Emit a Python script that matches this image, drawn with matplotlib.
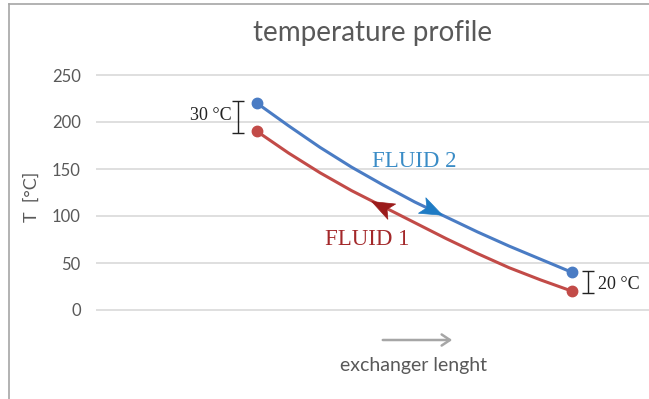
import numpy as np
import matplotlib
matplotlib.use('Agg')
import matplotlib.pyplot as plt
from matplotlib.lines import Line2D
from matplotlib.markers import MarkerStyle
from matplotlib.path import Path
from matplotlib.transforms import Affine2D

# exchanger length (normalised) and temperatures
length = [0, 0.1, 0.2, 0.3, 0.4, 0.5, 0.6, 0.7, 0.8, 0.9, 1.0]
fluid2 = [220, 196, 173, 152, 133, 115, 99, 83, 68, 54, 40]
fluid1 = [190, 167, 146, 127, 110, 93, 76, 60, 45, 32, 20]
yticks = [0, 50, 100, 150, 200, 250]

blue = '#4A7CC4'
red = '#C24B48'
grey = '#595959'

W, H = 649, 399
fig = plt.figure(figsize=(W/100, H/100), dpi=100)
plt.rcParams['font.family'] = ['Lato', 'DejaVu Sans']

# axes placed so that 0..250 maps like in the reference
ax = fig.add_axes([96/W, (H-314.7)/H, (W-96)/W, (314.7-70.3)/H])
ax.set_xlim(-0.511, 1.244)
ax.set_ylim(-5, 255)
ax.set_yticks(yticks)
ax.set_xticks([])
ax.tick_params(axis='y', length=0, pad=11, labelsize=12, labelcolor=grey)
for s in ax.spines.values():
    s.set_visible(False)
ax.grid(axis='y', color='#D9D9D9', lw=1.2)
ax.set_axisbelow(True)

ax.plot(length, fluid2, color=blue, lw=2.2, solid_capstyle='round', solid_joinstyle='round')
ax.plot(length, fluid1, color=red, lw=2.2, solid_capstyle='round', solid_joinstyle='round')
ax.plot([length[0], length[-1]], [fluid2[0], fluid2[-1]], 'o', color=blue, ms=7.5)
ax.plot([length[0], length[-1]], [fluid1[0], fluid1[-1]], 'o', color=red, ms=7.5)

# flow direction arrowheads (stealth shape, rotated along the curve)
stealth = Path([(1, 0), (-0.7, 0.65), (-0.3, 0), (-0.7, -0.65), (1, 0)],
               [Path.MOVETO, Path.LINETO, Path.LINETO, Path.LINETO, Path.CLOSEPOLY])

def arrowhead(x, y, x_from, y_from, color):
    p0 = ax.transData.transform((x_from, y_from))
    p1 = ax.transData.transform((x, y))
    ang = np.degrees(np.arctan2(p1[1]-p0[1], p1[0]-p0[0]))
    m = MarkerStyle(stealth, transform=Affine2D().rotate_deg(ang))
    ax.plot([x], [y], marker=m, color=color, ms=19, mec=color, mew=0.5, zorder=4)

arrowhead(0.55, 107, 0.5, 115, '#1E7BC4')
arrowhead(0.40, 110, 0.45, 101.5, '#9B1B1B')

ax.text(0.50, 158, 'FLUID 2', color='#3A8CC6', fontsize=16.5,
        family='Liberation Serif', ha='center', va='center')
ax.text(0.35, 75, 'FLUID 1', color='#A3282A', fontsize=16.5,
        family='Liberation Serif', ha='center', va='center')

# temperature difference brackets
ax.errorbar([-0.06], [(fluid2[0]+fluid1[0])/2], yerr=[(fluid2[0]-fluid1[0])/2 + 2],
            fmt='none', ecolor='#222222', elinewidth=1, capsize=4)
ax.text(-0.08, 207, '30 °C', fontsize=13, family='Liberation Serif',
        ha='right', va='center', color='#222222')
ax.errorbar([1.05], [(fluid2[-1]+fluid1[-1])/2], yerr=[(fluid2[-1]-fluid1[-1])/2 + 2],
            fmt='none', ecolor='#222222', elinewidth=1, capsize=4)
ax.text(1.083, 27, '20 °C', fontsize=13, family='Liberation Serif',
        ha='left', va='center', color='#222222')

# titles and labels
fig.text(373/W, 1-33/H, 'temperature profile', ha='center', va='center',
         fontsize=20, color=grey)
fig.text(32/W, 1-197/H, 'T  [°C]', ha='center', va='center', rotation=90,
         fontsize=13, color=grey)
fig.text(413/W, 1-366/H, 'exchanger lenght', ha='center', va='center',
         fontsize=14, color=grey)
fig.patches.append(matplotlib.patches.FancyArrowPatch(
    (380/W, 1-340/H), (455/W, 1-340/H), transform=fig.transFigure,
    arrowstyle='->,head_length=6,head_width=4', color='#A6A6A6', lw=1.8))

# chart frame
fig.add_artist(Line2D([9/W, 9/W], [0, 1-4/H], color='#A6A6A6', lw=1.2))
fig.add_artist(Line2D([9/W, 1], [1-4/H, 1-4/H], color='#A6A6A6', lw=1.2))

fig.savefig('out.png', dpi=100)
